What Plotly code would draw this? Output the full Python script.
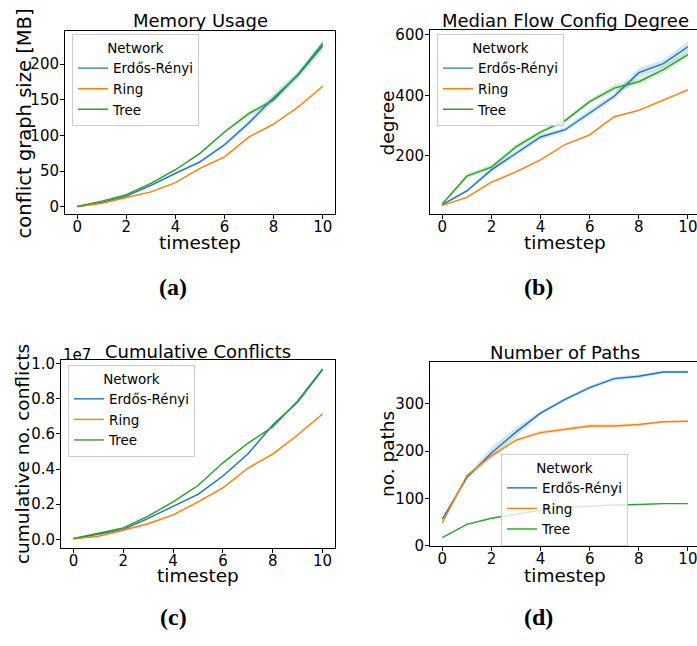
import plotly.graph_objects as go

W, H = 697, 646
timesteps = list(range(11))
networks = ["Erdős-Rényi", "Ring", "Tree"]
colors = ["#1f77b4", "#ff7f0e", "#2ca02c"]
bands = ["rgba(31,119,180,0.2)", "rgba(255,127,14,0.2)", "rgba(44,160,44,0.2)"]

# (a) Memory usage [MB]
mem_er = [0.5, 6, 15, 30, 47, 63, 87, 118, 153, 185, 226]
mem_ring = [0, 5, 13, 21, 34, 54, 70, 98, 116, 140, 169]
mem_tree = [0.5, 8, 17, 33, 52, 75, 105, 131, 150, 186, 229]
mem_er_ci = [0, 0.5, 1, 1.5, 2, 2, 3, 4, 6, 5, 7]
mem_ring_ci = [0, 0.3, 0.5, 0.5, 0.5, 1, 1, 1, 1, 1.5, 2]
mem_tree_ci = [0, 0.5, 1, 1, 1, 1.5, 2, 4, 3, 3, 4]

# (b) Median flow config degree
deg_er = [38, 83, 153, 208, 262, 286, 343, 397, 475, 505, 561]
deg_ring = [35, 62, 112, 146, 186, 237, 269, 329, 350, 384, 418]
deg_tree = [40, 132, 162, 229, 278, 316, 379, 424, 445, 485, 535]
deg_er_ci = [3, 5, 8, 8, 8, 8, 10, 10, 15, 12, 18]
deg_ring_ci = [2, 3, 3, 3, 3, 3, 3, 3, 3, 4, 5]
deg_tree_ci = [3, 8, 8, 10, 8, 8, 8, 12, 10, 12, 10]

# (c) Cumulative conflicts
conf_er = [4e4, 2.8e5, 5.6e5, 1.2e6, 1.9e6, 2.56e6, 3.6e6, 4.85e6, 6.5e6, 7.8e6, 9.63e6]
conf_ring = [4e4, 1.8e5, 5.2e5, 8.9e5, 1.39e6, 2.13e6, 2.93e6, 4.04e6, 4.85e6, 5.93e6, 7.13e6]
conf_tree = [5e4, 3.3e5, 6.5e5, 1.33e6, 2.13e6, 3.06e6, 4.35e6, 5.46e6, 6.39e6, 7.87e6, 9.69e6]
conf_ci = [1e4, 2e4, 3e4, 4e4, 4e4, 5e4, 5e4, 6e4, 6e4, 6e4, 7e4]

# (d) Number of paths
paths_er = [56, 144, 196, 240, 280, 309, 334, 353, 358, 367, 367]
paths_ring = [48, 148, 190, 223, 239, 246, 253, 253, 256, 262, 263]
paths_tree = [17, 45, 58, 67, 75, 81, 84, 86, 87, 89, 89]
paths_er_ci = [3, 4, 12, 10, 4, 4, 4, 4, 4, 3, 3]
paths_ring_ci = [2, 3, 4, 3, 4, 4, 4, 4, 3, 2, 2]
paths_tree_ci = [1, 1, 1, 1, 1, 1, 1, 1, 1, 1, 1]

panels = [
    dict(series=[mem_er, mem_ring, mem_tree], ci=[mem_er_ci, mem_ring_ci, mem_tree_ci]),
    dict(series=[deg_er, deg_ring, deg_tree], ci=[deg_er_ci, deg_ring_ci, deg_tree_ci]),
    dict(series=[conf_er, conf_ring, conf_tree], ci=[conf_ci, conf_ci, conf_ci]),
    dict(series=[paths_er, paths_ring, paths_tree], ci=[paths_er_ci, paths_ring_ci, paths_tree_ci]),
]

# pixel boxes (left, top, right, bottom)
boxes = [(65, 27, 335, 214), (430, 26, 697, 214), (61, 363, 335, 555), (430, 365, 697, 553)]
xranges = [[-0.5, 10.5], [-0.5, 10.37], [-0.5, 10.5], [-0.5, 10.37]]
yranges = [[-10.6, 246], [5.5, 615], [-0.0485e7, 1.0185e7], [-0.6, 388]]
legend_pos = [(72, 30), (437, 30), (68, 368), (501, 459)]

FONT = "DejaVu Sans"
fig = go.Figure()

for i, p in enumerate(panels):
    xa = "x" if i == 0 else f"x{i+1}"
    ya = "y" if i == 0 else f"y{i+1}"
    lg = "legend" if i == 0 else f"legend{i+1}"
    for j, (vals, ci) in enumerate(zip(p["series"], p["ci"])):
        lo = [v - c for v, c in zip(vals, ci)]
        hi = [v + c for v, c in zip(vals, ci)]
        fig.add_trace(go.Scatter(x=timesteps, y=lo, xaxis=xa, yaxis=ya, mode="lines",
                                 line=dict(width=0), showlegend=False, hoverinfo="skip"))
        fig.add_trace(go.Scatter(x=timesteps, y=hi, xaxis=xa, yaxis=ya, mode="lines",
                                 line=dict(width=0), fill="tonexty", fillcolor=bands[j],
                                 showlegend=False, hoverinfo="skip"))
    for j, vals in enumerate(p["series"]):
        fig.add_trace(go.Scatter(x=timesteps, y=vals, xaxis=xa, yaxis=ya, mode="lines",
                                 name=networks[j], line=dict(color=colors[j], width=1.4),
                                 legend=lg))

layout = dict(width=W, height=H, margin=dict(l=0, r=0, t=0, b=0),
              paper_bgcolor="white", plot_bgcolor="white", showlegend=True,
              font=dict(family=FONT, color="black"))

ytickcfg = [
    dict(tickvals=[0, 50, 100, 150, 200]),
    dict(tickvals=[200, 400, 600]),
    dict(tickvals=[0, 2e6, 4e6, 6e6, 8e6, 1e7], ticktext=["0.0", "0.2", "0.4", "0.6", "0.8", "1.0"]),
    dict(tickvals=[0, 100, 200, 300]),
]

for i, (l, t, r, b) in enumerate(boxes):
    xk = "xaxis" if i == 0 else f"xaxis{i+1}"
    yk = "yaxis" if i == 0 else f"yaxis{i+1}"
    xa = "x" if i == 0 else f"x{i+1}"
    ya = "y" if i == 0 else f"y{i+1}"
    common = dict(showgrid=False, zeroline=False, showline=True, linecolor="black", linewidth=1,
                  ticks="outside", ticklen=4, tickcolor="black", tickwidth=1,
                  ticklabeloverflow="allow",
                  tickfont=dict(family=FONT, size=15, color="black"))
    layout[xk] = dict(domain=[l / W, r / W], range=xranges[i], anchor=ya, mirror=True,
                      tickvals=[0, 2, 4, 6, 8, 10], ticklabelstandoff=-5, **common)
    layout[yk] = dict(domain=[1 - b / H, 1 - t / H], range=yranges[i], anchor=xa,
                      mirror=(i in (0, 2)), ticklabelstandoff=-2, **ytickcfg[i], **common)
    lg = "legend" if i == 0 else f"legend{i+1}"
    lx, ly = legend_pos[i]
    layout[lg] = dict(x=lx / W, y=1 - ly / H, xanchor="left", yanchor="top",
                      traceorder="normal",
                      bgcolor="rgba(255,255,255,0.8)", bordercolor="#cccccc", borderwidth=1,
                      font=dict(family=FONT, size=13.5, color="black"),
                      title=dict(text="Network", side="top center",
                                 font=dict(family=FONT, size=13.5, color="black")),
                      tracegroupgap=0)

fig.update_layout(**layout)

def px_ann(text, x, y, size, angle=0, family=FONT, xanchor="center", yanchor="middle"):
    fig.add_annotation(text=text, x=x / W, y=1 - y / H, xref="paper", yref="paper",
                       showarrow=False, textangle=angle, xanchor=xanchor, yanchor=yanchor,
                       font=dict(family=family, size=size, color="black"))

titles = [("Memory Usage", 200, 16), ("Median Flow Config Degree", 565, 16),
          ("Cumulative Conflicts", 198, 354), ("Number of Paths", 565, 355)]
for txt, x, y in titles:
    px_ann(txt, x, y, 18)

ylabels = [("conflict graph size [MB]", 24, 121, 19.5), ("degree", 387, 120, 18.5),
           ("cumulative no. conflicts", 22, 459, 18.5), ("no. paths", 387, 459, 18.5)]
for txt, x, y, s in ylabels:
    px_ann(txt, x, y, s, angle=-90)

xlabels = [(200, 243), (565, 243), (198, 583), (565, 583)]
for x, y in xlabels:
    px_ann("timestep", x, y, 18.5)

px_ann("1e7", 61, 358, 15, xanchor="left")

sublabels = [("(a)", 173, 288), ("(b)", 538, 288), ("(c)", 173, 626), ("(d)", 538, 626)]
for txt, x, y in sublabels:
    px_ann("<b>" + txt + "</b>", x, y, 24, family="Liberation Serif")

fig.write_html("out.html", config={"displayModeBar": False},
               post_script="document.body.style.margin='0';document.body.style.padding='0';")
